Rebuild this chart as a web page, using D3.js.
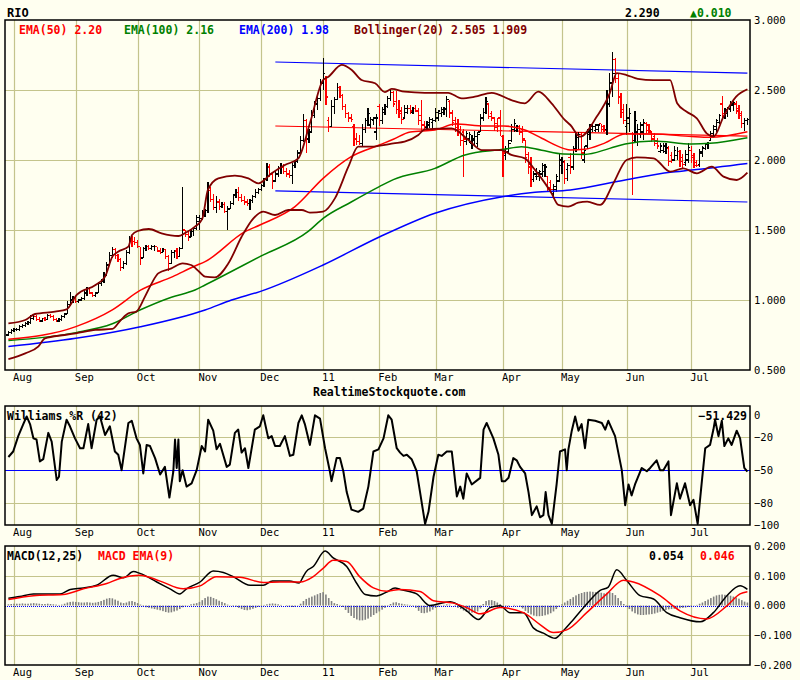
<!DOCTYPE html>
<html>
<head>
<meta charset="utf-8">
<script src="https://cdn.jsdelivr.net/npm/d3@7"></script>
<style>
  body { margin: 0; background: #fffff0; }
  svg text { font-family: "DejaVu Sans Mono", monospace; }
</style>
</head>
<body>
<div id="chart"></div>
<script>
// Daily bars, Jul 29 2010 .. Jul 29 2011 (trading day index)
const opens = [
  .75,.77,.78,.79,.79,.81,.82,.83,.84,.87,.88,.86,.85,.87,.86,.89,.88,.86,.85,.86,.88,.90,.97,1.00,
  1.01,.99,1.00,1.01,1.05,1.08,1.05,1.03,1.05,1.12,1.13,1.18,1.25,1.32,1.36,1.32,1.29,1.23,1.26,1.34,1.44,1.42,
  1.41,1.38,1.30,1.37,1.38,1.37,1.38,1.38,1.35,1.34,1.36,1.31,1.26,1.34,1.35,1.31,1.37,1.50,1.47,1.45,1.49,1.51,
  1.56,1.58,1.62,1.64,1.78,1.72,1.66,1.70,1.67,1.68,1.63,1.65,1.69,1.75,1.77,1.73,1.71,1.70,1.69,1.71,1.74,1.77,
  1.79,1.82,1.86,1.95,1.90,1.85,1.90,1.94,1.95,1.92,1.90,1.89,1.96,1.99,2.05,2.14,2.28,2.15,2.20,2.32,2.40,2.44,2.55,
  2.58,2.28,2.24,2.38,2.43,2.52,2.46,2.38,2.33,2.30,2.24,2.15,2.13,2.12,2.22,2.28,2.25,2.28,2.20,2.38,2.28,2.34,
  2.38,2.44,2.48,2.42,2.36,2.35,2.30,2.34,2.37,2.34,2.37,2.35,2.32,2.25,2.23,2.25,2.27,2.28,2.30,
  2.33,2.34,2.36,2.42,2.34,2.28,2.26,2.22,2.20,2.13,2.15,2.12,2.14,2.12,2.20,2.30,2.34,2.40,2.33,2.30,2.26,2.30,2.17,
  2.03,2.06,2.14,2.22,2.21,2.24,2.22,2.14,2.04,1.97,1.86,1.88,1.88,1.90,1.92,1.88,1.84,1.76,1.79,1.85,1.96,
  1.98,1.93,2.02,1.95,2.08,2.16,2.18,2.00,2.10,2.18,2.22,2.21,2.22,2.26,2.24,2.22,2.40,2.55,2.72,2.58,2.45,
  2.36,2.24,2.26,2.19,2.14,2.20,2.18,2.20,2.26,2.25,2.20,2.17,2.14,2.06,2.07,2.06,2.08,2.03,2.00,2.03,2.06,2.02,
  1.98,2.00,2.07,2.03,1.98,1.97,2.05,2.08,2.11,2.14,2.19,2.22,2.27,2.40,2.31,2.33,2.36,2.39,2.40,2.37,2.33,2.26,2.28
];
const highs = [
  .78,.79,.80,.80,.82,.83,.84,.85,.89,.90,.89,.88,.87,.88,.90,.90,.89,.87,.87,.89,.91,.99,1.06,1.03,
  1.02,1.01,1.02,1.07,1.09,1.09,1.06,1.06,1.13,1.15,1.20,1.27,1.34,1.38,1.37,1.33,1.30,1.28,1.36,1.46,1.46,1.45,
  1.43,1.38,1.38,1.39,1.39,1.39,1.39,1.38,1.37,1.37,1.36,1.32,1.36,1.36,1.37,1.38,1.81,1.50,1.49,1.51,1.52,1.61,
  1.61,1.64,1.65,1.84,1.81,1.76,1.74,1.72,1.70,1.70,1.67,1.71,1.76,1.79,1.81,1.76,1.74,1.72,1.72,1.75,1.79,1.80,
  1.83,1.87,1.98,1.97,1.91,1.92,1.96,1.98,1.97,1.94,1.93,1.98,2.00,2.07,2.17,2.33,2.29,2.22,2.36,2.42,2.45,2.58,2.73,
  2.60,2.31,2.43,2.45,2.55,2.53,2.47,2.40,2.34,2.33,2.26,2.19,2.18,2.26,2.30,2.37,2.31,2.31,2.33,2.40,2.38,2.40,
  2.46,2.50,2.49,2.49,2.43,2.38,2.39,2.39,2.39,2.38,2.39,2.37,2.43,2.28,2.28,2.31,2.30,2.37,2.36,
  2.38,2.38,2.46,2.43,2.36,2.31,2.29,2.24,2.22,2.21,2.20,2.18,2.21,2.20,2.33,2.37,2.45,2.40,2.35,2.31,2.30,2.36,2.18,
  2.10,2.14,2.26,2.29,2.25,2.25,2.24,2.14,2.06,2.02,1.92,1.94,1.93,1.98,1.97,1.88,1.86,1.83,1.90,2.05,2.02,
  2.00,1.98,2.05,2.10,2.19,2.20,2.20,2.10,2.22,2.26,2.26,2.26,2.26,2.26,2.25,2.50,2.62,2.77,2.73,2.62,2.48,
  2.40,2.40,2.37,2.20,2.35,2.26,2.27,2.29,2.27,2.26,2.21,2.19,2.16,2.12,2.12,2.12,2.10,2.06,2.10,2.09,2.07,2.04,
  2.07,2.12,2.10,2.05,2.00,2.08,2.10,2.12,2.13,2.21,2.25,2.29,2.33,2.46,2.37,2.38,2.42,2.43,2.42,2.39,2.35,2.30,2.30
];
const lows = [
  .74,.76,.77,.78,.78,.80,.81,.82,.83,.86,.85,.84,.84,.85,.86,.87,.85,.84,.84,.85,.87,.90,.96,.98,
  .98,.98,.99,1.00,1.03,1.04,1.02,1.02,1.05,1.10,1.12,1.17,1.24,1.30,1.29,1.27,1.21,1.22,1.25,1.33,1.38,1.39,
  1.37,1.25,1.30,1.35,1.36,1.36,1.35,1.34,1.33,1.34,1.29,1.21,1.26,1.30,1.29,1.31,1.37,1.45,1.42,1.45,1.46,1.50,
  1.50,1.57,1.59,1.62,1.70,1.64,1.62,1.64,1.66,1.62,1.50,1.65,1.68,1.73,1.71,1.70,1.68,1.67,1.64,1.69,1.73,1.76,
  1.78,1.81,1.85,1.88,1.79,1.84,1.88,1.90,1.90,1.88,1.87,1.83,1.94,1.98,2.04,2.13,2.05,2.12,2.19,2.30,2.36,2.42,2.50,
  2.39,2.20,2.24,2.33,2.43,2.44,2.36,2.30,2.27,2.27,2.10,2.11,2.11,2.10,2.19,2.24,2.23,2.25,2.14,2.24,2.26,2.32,
  2.37,2.42,2.38,2.33,2.30,2.26,2.29,2.33,2.33,2.33,2.34,2.25,2.21,2.21,2.21,2.23,2.22,2.27,2.28,
  2.31,2.32,2.31,2.30,2.24,2.20,2.17,2.10,1.88,2.11,2.12,2.08,2.10,2.09,2.20,2.28,2.33,2.29,2.28,2.21,2.20,2.17,1.88,
  2.00,2.04,2.13,2.20,2.20,2.18,2.12,1.98,1.90,1.81,1.84,1.86,1.85,1.88,1.88,1.78,1.77,1.74,1.77,1.84,1.90,
  1.83,1.85,1.90,1.93,2.06,2.07,2.01,1.98,2.08,2.14,2.20,2.20,2.20,2.20,2.20,2.18,2.38,2.45,2.55,2.40,2.30,
  2.26,2.18,2.20,1.75,2.12,2.10,2.16,2.14,2.19,2.19,2.13,2.10,2.08,2.05,2.05,2.04,1.96,1.98,1.99,2.00,1.95,1.94,
  1.96,1.98,1.98,1.94,1.95,1.95,2.02,2.07,2.08,2.14,2.17,2.20,2.26,2.29,2.29,2.31,2.34,2.35,2.33,2.29,2.23,2.21,2.25
];
const closes = [
  .77,.78,.79,.79,.81,.82,.83,.84,.87,.88,.86,.85,.87,.86,.89,.88,.86,.85,.86,.88,.90,.97,1.00,1.01,
  .99,1.00,1.01,1.05,1.08,1.05,1.03,1.05,1.12,1.13,1.18,1.25,1.32,1.36,1.32,1.29,1.23,1.26,1.34,1.44,1.42,1.41,
  1.38,1.30,1.37,1.38,1.37,1.38,1.38,1.35,1.34,1.36,1.31,1.26,1.34,1.35,1.31,1.37,1.50,1.47,1.45,1.49,1.51,1.59,
  1.58,1.62,1.64,1.78,1.72,1.66,1.70,1.67,1.68,1.63,1.65,1.69,1.75,1.77,1.73,1.71,1.70,1.69,1.71,1.74,1.77,1.79,
  1.82,1.86,1.95,1.90,1.85,1.90,1.94,1.95,1.92,1.90,1.89,1.96,1.99,2.05,2.14,2.28,2.15,2.20,2.32,2.40,2.44,2.55,2.62,
  2.45,2.24,2.38,2.43,2.52,2.46,2.38,2.33,2.30,2.29,2.15,2.13,2.12,2.22,2.28,2.33,2.29,2.30,2.30,2.28,2.36,2.38,
  2.44,2.48,2.40,2.36,2.33,2.29,2.37,2.37,2.35,2.37,2.35,2.28,2.25,2.24,2.27,2.29,2.28,2.34,2.35,
  2.36,2.37,2.43,2.33,2.27,2.23,2.20,2.14,2.15,2.19,2.18,2.15,2.17,2.18,2.30,2.34,2.42,2.31,2.30,2.23,2.24,2.21,2.05,
  2.08,2.12,2.24,2.26,2.24,2.20,2.15,2.02,1.95,1.86,1.90,1.91,1.92,1.96,1.95,1.80,1.79,1.81,1.88,2.00,1.99,
  1.87,1.96,1.95,2.08,2.16,2.18,2.05,2.07,2.20,2.24,2.24,2.25,2.25,2.22,2.21,2.40,2.55,2.62,2.58,2.45,2.34,
  2.28,2.30,2.33,2.18,2.28,2.22,2.25,2.27,2.21,2.21,2.15,2.12,2.10,2.10,2.10,2.09,1.99,2.00,2.07,2.06,1.99,1.97,
  2.04,2.09,2.02,1.96,1.96,2.06,2.09,2.11,2.12,2.19,2.24,2.28,2.32,2.33,2.36,2.37,2.40,2.41,2.35,2.32,2.26,2.28,2.29
];

// Month starts (trading day index) and their labels
const monthIdx = [2, 24, 46, 68, 90, 112, 132, 152, 176, 197, 220, 243];
const monthLabels = ["Aug", "Sep", "Oct", "Nov", "Dec", "11", "Feb", "Mar", "Apr", "May", "Jun", "Jul"];

// Overlay lines: [day index, value]
const ema50Pts = [[0,0.719],[24,0.81],[37,0.93],[47,1.07],[58.5,1.167],[66.4,1.243],[70,1.274],[84.2,1.488],[89.5,1.536],[102,1.667],[112,1.869],[122,2.024],[132,2.107],[137,2.148],[143,2.2],[151.8,2.214],[159,2.257],[169.6,2.243],[176.3,2.243],[183.8,2.214],[189.8,2.155],[197.5,2.083],[200,2.071],[205,2.076],[212,2.119],[219.5,2.186],[229.6,2.186],[243.2,2.167],[249.7,2.162],[263,2.202]];
const ema100Pts = [[0,0.71],[24,0.767],[37,0.83],[47,0.93],[58,1.02],[66.4,1.071],[70,1.107],[89.5,1.31],[106.7,1.49],[112,1.583],[122,1.70],[132,1.81],[137,1.86],[151.8,1.94],[162.5,2.036],[176.3,2.076],[182.6,2.095],[189.8,2.07],[197.5,2.043],[205,2.04],[214,2.083],[219.5,2.114],[229.6,2.136],[243.2,2.114],[249.7,2.119],[263,2.159]];
const ema200Pts = [[0,0.667],[24,0.726],[47,0.809],[70,0.929],[79.4,1.0],[89.5,1.06],[112,1.25],[132,1.45],[151.8,1.62],[176.3,1.74],[187.4,1.77],[200,1.786],[219.5,1.857],[235.5,1.912],[243.2,1.928],[263,1.975]];
const bbUpperPts = [[0,0.833],[6,0.857],[9.5,0.90],[16.6,0.917],[20.7,0.933],[24.3,1.036],[31,1.107],[34.4,1.167],[37,1.31],[39,1.345],[42.7,1.381],[44,1.464],[46,1.493],[50,1.507],[54.5,1.476],[60.5,1.457],[63,1.48],[66.4,1.524],[69,1.58],[71,1.786],[74.7,1.869],[80.6,1.888],[85.4,1.869],[89,1.833],[93.7,1.905],[98.4,1.964],[103.2,2.012],[107.3,2.262],[112,2.571],[113.9,2.595],[118.6,2.679],[122.2,2.643],[125.7,2.571],[130.5,2.548],[134,2.485],[136.4,2.508],[141,2.488],[148.2,2.48],[156.5,2.48],[161.3,2.44],[166,2.452],[172,2.48],[179,2.428],[183.8,2.405],[188.6,2.488],[193.3,2.405],[198,2.286],[200,2.25],[203.5,2.167],[209.4,2.31],[214,2.476],[216.5,2.62],[220,2.607],[224,2.58],[229.6,2.571],[235.5,2.571],[238,2.405],[241.4,2.345],[245,2.298],[248.5,2.19],[251,2.167],[254.5,2.31],[259,2.452],[263,2.505]];
const bbLowerPts = [[0,0.578],[6,0.619],[10.6,0.667],[13,0.726],[20,0.75],[24,0.762],[31,0.786],[37,0.793],[40,0.857],[42.7,0.905],[45.5,0.917],[48.6,1.024],[51,1.119],[53.3,1.19],[58,1.226],[62,1.262],[65,1.25],[68,1.2],[70,1.167],[73.5,1.162],[78.3,1.262],[83,1.452],[87.2,1.583],[90.7,1.631],[94.9,1.607],[99.6,1.643],[104.4,1.643],[107.3,1.624],[112,1.631],[116.2,1.726],[121,1.952],[124.5,2.095],[129.3,2.095],[134,2.108],[137,2.119],[141,2.131],[145.9,2.179],[148.2,2.219],[157.7,2.226],[163.7,2.143],[168.4,2.071],[175.5,2.071],[179,2.036],[183.8,2.012],[187.4,1.929],[191,1.833],[193.3,1.762],[195.7,1.679],[199.2,1.667],[202.8,1.695],[206,1.702],[210.6,1.679],[215.3,1.833],[220,2.0],[223.6,2.019],[229.6,2.012],[235.5,1.917],[240.2,1.94],[245,1.905],[250.3,1.952],[254.5,1.881],[259.2,1.857],[263,1.909]];
const channelTop = [[95,2.70],[263,2.62]];
const channelMid = [[95,2.243],[263,2.171]];
const channelBot = [[95,1.779],[263,1.70]];

// Williams %R(42)
const wprPts = [[0,-38],[1.7,-33],[3.5,-19],[5.3,-8],[6.5,-1],[7.7,-8],[8.9,-21],[10,-22],[11.2,-42],[12.4,-40],[14.2,-16],[15.4,-24],[17.2,-59],[18,-56],[19,-24],[20.7,-4],[21.9,-10],[23.7,-21],[25.5,-30],[26.7,-30],[28.4,-8],[29.6,-30],[31.4,-4],[32.6,-1],[34.4,-18],[36.1,-10],[37.9,-33],[39.1,-36],[40.3,-50],[42.7,-7],[43.9,-5],[45.6,-21],[46.8,-27],[48,-53],[49.2,-27],[50.4,-28],[52.2,-39],[54,-54],[55.7,-47],[57.3,-75],[58.7,-51],[59.3,-22],[59.9,-48],[60.5,-22],[61,-60],[62,-50],[63.4,-65],[65.2,-62],[67,-50],[68.8,-28],[70,-33],[71.1,-4],[72.9,-14],[74.1,-31],[75.3,-26],[77.7,-47],[78.8,-45],[80.6,-16],[81.8,-13],[83,-34],[84.2,-30],[85.4,-48],[87.7,-13],[89.5,-10],[90.7,0],[92.5,-21],[93.7,-19],[94.9,-28],[96.6,-28],[98.4,-19],[100.2,-37],[101.4,-36],[103.2,-7],[104.4,0],[105.5,-8],[107.3,-27],[109.1,0],[110.9,-3],[112.7,-30],[114.4,-51],[115,-60],[116.8,-39],[118,-39],[119.2,-51],[120.4,-70],[122.1,-86],[124.5,-88],[126.3,-85],[128.1,-65],[129.9,-33],[131.7,-31],[133.5,-21],[135.2,0],[136.4,-4],[138.2,-30],[139.4,-34],[140.6,-37],[141.8,-36],[143.5,-40],[145.3,-51],[146.5,-70],[148.3,-99],[149.5,-88],[151.3,-56],[153,-36],[154.2,-37],[156,-33],[157.8,-33],[159.6,-74],[160.8,-65],[161.9,-76],[163.1,-53],[164.9,-63],[167.9,-57],[169.1,-13],[170.2,-7],[171.4,-14],[172.6,-21],[174.4,-36],[175.6,-60],[176.8,-60],[178,-57],[179.7,-39],[180.9,-41],[182.1,-47],[183.9,-53],[185.1,-70],[186.3,-91],[188,-83],[189.2,-93],[190.4,-91],[191.2,-70],[192.2,-91],[193.4,-99],[195.1,-63],[196.3,-33],[198.1,-31],[198.7,-50],[199.3,-31],[200.5,-14],[201.7,-1],[202.9,-14],[204,-8],[205.2,-30],[206.4,-4],[208.8,-5],[211.2,-7],[212.4,-13],[213.5,-5],[215.9,-19],[218.3,-50],[219.5,-82],[220.7,-63],[221.8,-73],[223,-63],[225.4,-48],[227.2,-51],[228.4,-48],[230.7,-41],[231.9,-50],[233.1,-50],[234.9,-42],[235.8,-91],[237.9,-62],[239,-76],[240.8,-62],[242.6,-82],[243.8,-77],[245.3,-99],[246.8,-60],[248,-30],[249.7,-27],[250.9,-13],[251.5,-4],[252.7,-19],[253.9,-5],[254.8,-28],[256.2,-21],[257.4,-27],[259.2,-14],[260.4,-21],[261.9,-48],[263,-51.429]];

// MACD(12,25) and its EMA(9)
const macdPts = [[0,0.024],[4,0.03],[8.9,0.039],[18.4,0.039],[22,0.054],[26.7,0.059],[31.4,0.068],[37.3,0.102],[40.9,0.093],[44.5,0.114],[46.8,0.108],[52.8,0.079],[57.5,0.056],[61,0.039],[63.4,0.056],[68.2,0.079],[72.9,0.116],[76.5,0.111],[80,0.097],[86,0.068],[90.7,0.068],[94,0.082],[100,0.082],[103.5,0.076],[104.8,0.095],[106,0.114],[108.5,0.131],[112.7,0.183],[115.6,0.16],[120.4,0.131],[124,0.074],[127,0.037],[131,0.032],[134.6,0.045],[137.6,0.059],[139.4,0.054],[145.3,0.039],[150,0],[157.2,0.013],[163.1,-0.018],[167.3,-0.047],[171.4,-0.007],[175,-0.001],[178.5,-0.024],[183.3,-0.024],[186.9,-0.076],[190.4,-0.093],[194.6,-0.11],[197.5,-0.085],[201.1,-0.047],[205.8,0.005],[210.6,0.051],[213.5,0.062],[216.5,0.12],[220,0.085],[224.8,0.033],[229.6,0.022],[234.3,-0.024],[239,-0.041],[246.2,-0.055],[250.9,-0.024],[255.7,0.033],[260.4,0.066],[263,0.054]];
const signalPts = [[0,0.02],[8.9,0.033],[19.5,0.037],[26.7,0.056],[35,0.074],[39.7,0.091],[46.8,0.102],[54,0.082],[62.2,0.056],[68.2,0.066],[74,0.097],[82.4,0.095],[90.7,0.077],[96.6,0.079],[103.8,0.079],[108.5,0.097],[112,0.125],[115.6,0.152],[120.4,0.148],[125,0.097],[129.9,0.059],[134.6,0.048],[139.4,0.054],[146.5,0.047],[151.3,0.016],[158.4,0.008],[163.1,-0.007],[167.9,-0.028],[175,-0.007],[183.3,-0.024],[189.2,-0.064],[194,-0.091],[198.7,-0.082],[205.8,-0.024],[213,0.039],[218.9,0.085],[222.4,0.079],[231.9,0.033],[239,-0.018],[248.5,-0.045],[255.7,-0.001],[260.4,0.039],[263,0.046]];
const histogram = [
  .004,.005,.006,.006,.006,.007,.006,.006,.007,.008,.007,.006,.005,.005,.006,.005,.004,.003,.002,.003,.006,.010,.012,.013,
  .012,.011,.010,.010,.011,.010,.009,.010,.012,.015,.019,.023,.025,.024,.020,.016,.010,.008,.010,.014,.015,.012,
  .008,.003,-.003,-.006,-.008,-.010,-.012,-.014,-.016,-.019,-.022,-.024,-.023,-.020,-.017,-.012,-.006,-.002,.001,.004,.006,.008,
  .012,.018,.025,.030,.029,.025,.021,.016,.012,.008,.003,.001,-.002,-.004,-.008,-.012,-.015,-.016,-.014,-.011,-.008,-.004,
  -.001,.002,.004,.006,.007,.006,.004,.002,.000,-.002,-.004,-.005,-.004,-.001,.006,.015,.022,.026,.030,.034,.038,.042,.045,
  .037,.025,.015,.008,.005,.002,-.005,-.015,-.025,-.035,-.042,-.047,-.050,-.050,-.048,-.044,-.038,-.032,-.026,-.020,-.014,-.008,
  -.002,.005,.010,.011,.008,.006,.004,.003,.002,-.002,-.008,-.018,-.025,-.026,-.024,-.020,-.014,-.008,-.004,
  -.001,.002,.004,.003,.000,-.003,-.008,-.012,-.017,-.021,-.023,-.024,-.024,-.020,-.010,.005,.015,.018,.018,.015,.010,.005,.001,
  -.002,-.002,.000,.002,.001,-.004,-.010,-.018,-.025,-.030,-.034,-.036,-.036,-.035,-.033,-.030,-.026,-.020,-.012,-.004,.004,
  .010,.016,.022,.028,.034,.039,.042,.045,.046,.047,.046,.045,.044,.043,.041,.043,.045,.042,.035,.025,.015,
  .005,-.004,-.012,-.020,-.026,-.030,-.032,-.032,-.031,-.030,-.029,-.027,-.024,-.021,-.018,-.015,-.013,-.012,-.011,-.010,-.009,-.008,
  -.007,-.005,-.003,-.001,.002,.006,.010,.015,.020,.025,.030,.034,.036,.037,.036,.035,.033,.030,.027,.023,.018,.013,.010
];

// Axis tick values
const priceTicks = [3.0, 2.5, 2.0, 1.5, 1.0, 0.5];
const wprTicks = [0, -20, -50, -80, -100];
const macdTicks = [0.2, 0.1, 0, -0.1, -0.2];

// Header / legend texts
const symbol = "RIO";
const lastPrice = "2.290";
const change = "\u25B20.010";
const legend = [
  { text: "EMA(50) 2.20", color: "#ff0000", x: 19 },
  { text: "EMA(100) 2.16", color: "#008000", x: 124 },
  { text: "EMA(200) 1.98", color: "#0000ff", x: 239 },
  { text: "Bollinger(20) 2.505 1.909", color: "#800000", x: 354 }
];

const W = 800, H = 680;
const left = 5, right = 750;
const grid = "#c4c48c";
const bg = "#fffff0";

const x = d3.scaleLinear().domain([0, closes.length - 1]).range([8.4, 747.4]);
const yP = d3.scaleLinear().domain([0.5, 3]).range([370, 20]);
const yW = d3.scaleLinear().domain([-100, 8.5]).range([525, 406]);
const yM = d3.scaleLinear().domain([-0.2, 0.2]).range([665, 546]);

const svg = d3.select("#chart").append("svg")
  .attr("width", W).attr("height", H);
svg.append("rect").attr("width", W).attr("height", H).attr("fill", bg);

function drawPanel(y, top, bottom, hGrid, ticks, fmt) {
  const g = svg.append("g");
  // vertical month grid
  g.selectAll("line.v").data(monthIdx).enter().append("line")
    .attr("x1", d => Math.round(x(d)) + 0.5).attr("x2", d => Math.round(x(d)) + 0.5)
    .attr("y1", top).attr("y2", bottom)
    .attr("stroke", grid).attr("stroke-width", 1.2);
  // horizontal grid
  g.selectAll("line.h").data(hGrid).enter().append("line")
    .attr("x1", left).attr("x2", right)
    .attr("y1", d => Math.round(y(d)) + 0.5).attr("y2", d => Math.round(y(d)) + 0.5)
    .attr("stroke", grid).attr("stroke-width", 1.2);
  // right axis labels
  const axis = d3.axisRight(y).tickValues(ticks).tickSize(0).tickPadding(4).tickFormat(fmt);
  const ag = svg.append("g").attr("transform", `translate(${right},0)`).call(axis);
  ag.select(".domain").remove();
  ag.selectAll("text").attr("font-family", "DejaVu Sans Mono").attr("font-size", 10.5).attr("fill", "#000");
  // month labels under the panel
  svg.append("g").selectAll("text").data(monthIdx).enter().append("text")
    .attr("x", d => x(d) - 1).attr("y", bottom + 11)
    .attr("font-size", 10.5)
    .text((d, i) => monthLabels[i]);
  return g;
}

function drawBorder(top, bottom) {
  svg.append("rect")
    .attr("x", left).attr("y", top)
    .attr("width", right - left).attr("height", bottom - top)
    .attr("fill", "none").attr("stroke", "#000").attr("stroke-width", 1.5);
}

function pathLine(g, pts, y, color, width, curve) {
  g.append("path")
    .datum(pts)
    .attr("fill", "none")
    .attr("stroke", color)
    .attr("stroke-width", width)
    .attr("stroke-linejoin", "round")
    .attr("d", d3.line().x(d => x(d[0])).y(d => y(d[1])).curve(curve || d3.curveLinear));
}

// ---------- price panel ----------
const fmt3 = d3.format(".3f");
const pricePanel = drawPanel(yP, 20, 370, [2.5, 2.0, 1.5, 1.0], priceTicks, fmt3);

pathLine(pricePanel, channelTop, yP, "#0000ff", 1.2);
pathLine(pricePanel, channelMid, yP, "#ff0000", 1.2);
pathLine(pricePanel, channelBot, yP, "#0000ff", 1.2);

const bars = pricePanel.append("g").attr("shape-rendering", "crispEdges");
closes.forEach((c, i) => {
  const col = c < opens[i] ? "#ff0000" : "#000000";
  const cx = x(i);
  bars.append("line").attr("x1", cx).attr("x2", cx)
    .attr("y1", yP(highs[i])).attr("y2", yP(lows[i]))
    .attr("stroke", col).attr("stroke-width", 1.2);
  bars.append("line").attr("x1", cx - 2).attr("x2", cx)
    .attr("y1", yP(opens[i])).attr("y2", yP(opens[i]))
    .attr("stroke", col).attr("stroke-width", 1.2);
  bars.append("line").attr("x1", cx).attr("x2", cx + 2)
    .attr("y1", yP(c)).attr("y2", yP(c))
    .attr("stroke", col).attr("stroke-width", 1.2);
});

pathLine(pricePanel, ema200Pts, yP, "#0000ff", 1.5, d3.curveMonotoneX);
pathLine(pricePanel, ema100Pts, yP, "#008000", 1.5, d3.curveMonotoneX);
pathLine(pricePanel, ema50Pts, yP, "#ff0000", 1.5, d3.curveMonotoneX);
pathLine(pricePanel, bbUpperPts, yP, "#800000", 1.8, d3.curveMonotoneX);
pathLine(pricePanel, bbLowerPts, yP, "#800000", 1.8, d3.curveMonotoneX);
drawBorder(20, 370);

// header and legend
svg.append("text").attr("x", 7).attr("y", 17).attr("font-size", 12).attr("font-weight", "bold").text(symbol);
svg.append("text").attr("x", 625).attr("y", 17).attr("font-size", 11.5).attr("font-weight", "bold").text(lastPrice);
svg.append("text").attr("x", 690).attr("y", 17).attr("font-size", 11.5).attr("font-weight", "bold")
  .attr("fill", "#008000").text(change);
svg.append("g").selectAll("text").data(legend).enter().append("text")
  .attr("x", d => d.x).attr("y", 34)
  .attr("font-size", 11.5).attr("font-weight", "bold")
  .attr("fill", d => d.color).text(d => d.text);
svg.append("text").attr("x", 313).attr("y", 396).attr("font-size", 11.5).attr("font-weight", "bold")
  .text("RealtimeStockquote.com");

// ---------- Williams %R panel ----------
const wprPanel = drawPanel(yW, 406, 525, [-20, -80], wprTicks, d3.format("d"));
wprPanel.append("line").attr("x1", left).attr("x2", right)
  .attr("y1", Math.round(yW(-50)) + 0.5).attr("y2", Math.round(yW(-50)) + 0.5)
  .attr("stroke", "#0000ff").attr("stroke-width", 1.2);
pathLine(wprPanel, wprPts, yW, "#000", 2);
drawBorder(406, 525);
svg.append("text").attr("x", 7).attr("y", 420).attr("font-size", 11.5).attr("font-weight", "bold")
  .text("Williams %R (42)");
svg.append("text").attr("x", 747).attr("y", 420).attr("font-size", 11.5).attr("font-weight", "bold")
  .attr("text-anchor", "end").text(fmt3(wprPts[wprPts.length - 1][1]));

// ---------- MACD panel ----------
const macdPanel = drawPanel(yM, 546, 665, [0.1, -0.1], macdTicks, fmt3);
macdPanel.append("g").selectAll("rect").data(histogram).enter().append("rect")
  .attr("x", (d, i) => x(i) - 0.8)
  .attr("width", 1.6)
  .attr("y", d => Math.min(yM(d), yM(0)))
  .attr("height", d => Math.abs(yM(d) - yM(0)))
  .attr("fill", "#808080");
macdPanel.append("line").attr("x1", left).attr("x2", right)
  .attr("y1", Math.round(yM(0)) + 0.5).attr("y2", Math.round(yM(0)) + 0.5)
  .attr("stroke", "#0000ff").attr("stroke-width", 1).attr("stroke-dasharray", "1,1");
pathLine(macdPanel, macdPts, yM, "#000", 1.5, d3.curveMonotoneX);
pathLine(macdPanel, signalPts, yM, "#ff0000", 1.5, d3.curveMonotoneX);
drawBorder(546, 665);
svg.append("text").attr("x", 7).attr("y", 560).attr("font-size", 11.5).attr("font-weight", "bold")
  .text("MACD(12,25)");
svg.append("text").attr("x", 98).attr("y", 560).attr("font-size", 11.5).attr("font-weight", "bold")
  .attr("fill", "#ff0000").text("MACD EMA(9)");
svg.append("text").attr("x", 649).attr("y", 560).attr("font-size", 11.5).attr("font-weight", "bold")
  .text(fmt3(macdPts[macdPts.length - 1][1]));
svg.append("text").attr("x", 700).attr("y", 560).attr("font-size", 11.5).attr("font-weight", "bold")
  .attr("fill", "#ff0000").text(fmt3(signalPts[signalPts.length - 1][1]));
</script>
</body>
</html>
